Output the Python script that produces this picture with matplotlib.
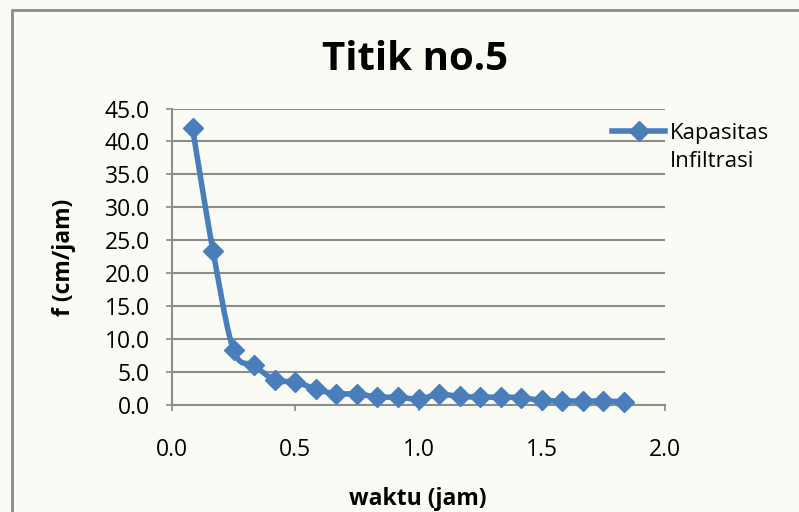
import numpy as np
import matplotlib
matplotlib.use("Agg")
import matplotlib.pyplot as plt
from matplotlib.lines import Line2D
from matplotlib.patches import Rectangle

# ---- data ----
waktu = [1/12, 2/12, 3/12, 4/12, 5/12, 6/12, 7/12, 8/12, 9/12, 10/12, 11/12,
         12/12, 13/12, 14/12, 15/12, 16/12, 17/12, 18/12, 19/12, 20/12, 21/12, 22/12]
kapasitas = [42.0, 23.3, 8.3, 6.0, 3.8, 3.5, 2.4, 1.7, 1.7, 1.2, 1.2,
             0.9, 1.6, 1.3, 1.2, 1.2, 1.1, 0.7, 0.6, 0.6, 0.6, 0.5]
x_ticks = [0.0, 0.5, 1.0, 1.5, 2.0]
y_ticks = [0.0, 5.0, 10.0, 15.0, 20.0, 25.0, 30.0, 35.0, 40.0, 45.0]
title = "Titik no.5"
x_label = "waktu (jam)"
y_label = "f (cm/jam)"
series_label = "Kapasitas\nInfiltrasi"

BLUE = "#4a7ebb"
GRAY = "#8c8c8c"
BG = "#fbfbf6"
FONT = "Open Sans"


def smooth(xs, ys, n=30):
    """Bezier smoothing through points (Excel-like smoothed line)."""
    P = np.column_stack([xs, ys]).astype(float)
    out = [P[0]]
    for i in range(len(P) - 1):
        p0 = P[i - 1] if i > 0 else P[i]
        p1 = P[i]
        p2 = P[i + 1]
        p3 = P[i + 2] if i + 2 < len(P) else P[i + 1]
        c1 = p1 + (p2 - p0) / 6.0
        c2 = p2 - (p3 - p1) / 6.0
        t = np.linspace(0, 1, n)[1:, None]
        seg = ((1 - t) ** 3) * p1 + 3 * ((1 - t) ** 2) * t * c1 + 3 * (1 - t) * t ** 2 * c2 + t ** 3 * p2
        out.extend(seg)
    out = np.array(out)
    return out[:, 0], out[:, 1]


fig = plt.figure(figsize=(7.99, 5.12), dpi=100, facecolor=BG)
fig.add_artist(Rectangle((12 / 799, -0.1), 1.0, 1 - 10 / 512 + 0.1, transform=fig.transFigure,
                         fill=False, edgecolor=GRAY, lw=2))

ax = fig.add_axes([172 / 799, 1 - 405 / 512, (665 - 172) / 799, (405 - 108.5) / 512])
ax.set_facecolor(BG)
ax.set_xlim(0, 2.0)
ax.set_ylim(0, 45.0)
ax.set_xticks(x_ticks)
ax.set_yticks(y_ticks)
ax.set_xticklabels([f"{v:.1f}" for v in x_ticks], fontfamily=FONT, fontsize=16.5)
ax.set_yticklabels([f"{v:.1f}" for v in y_ticks], fontfamily=FONT, fontsize=16.5)
ax.tick_params(axis="both", direction="out", length=4, width=1.2, color=GRAY)
ax.tick_params(axis="x", pad=20)
ax.tick_params(axis="y", pad=12)
ax.grid(axis="y", color=GRAY, lw=1.5)
ax.set_axisbelow(True)
for s in ["top", "right"]:
    ax.spines[s].set_visible(False)
for s in ["left", "bottom"]:
    ax.spines[s].set_color(GRAY)
    ax.spines[s].set_linewidth(1.5)

sx, sy = smooth(waktu, kapasitas)
ax.plot(sx, sy, color=BLUE, lw=4.0, solid_capstyle="round", zorder=3, clip_on=False)
ax.plot(waktu, kapasitas, linestyle="none", marker="D", markersize=10, color=BLUE,
        zorder=4, clip_on=False)

handle = Line2D([], [], color=BLUE, lw=4.0, marker="D", markersize=10)
leg = ax.legend([handle], [series_label], loc="upper left",
                bbox_to_anchor=(601 / 799, 1 - 112 / 512), bbox_transform=fig.transFigure,
                frameon=False, handlelength=2.4, handletextpad=0.2,
                borderpad=0.0, prop={"family": FONT, "size": 16})
for t in leg.get_texts():
    t.set_linespacing(1.4)
for col in leg._legend_handle_box.get_children():
    for item in col.get_children():
        item.align = "top"

fig.text(415 / 799, 1 - 60 / 512, title, ha="center", va="center",
         fontfamily=FONT, fontweight="bold", fontsize=29)
fig.text(418 / 799, 1 - 499 / 512, x_label, ha="center", va="center",
         fontfamily=FONT, fontweight="bold", fontsize=16.5)
fig.text(64 / 799, 1 - 257 / 512, y_label, ha="center", va="center", rotation=90,
         fontfamily=FONT, fontweight="bold", fontsize=16.5)

fig.savefig("out.png", dpi=100, facecolor=BG)
